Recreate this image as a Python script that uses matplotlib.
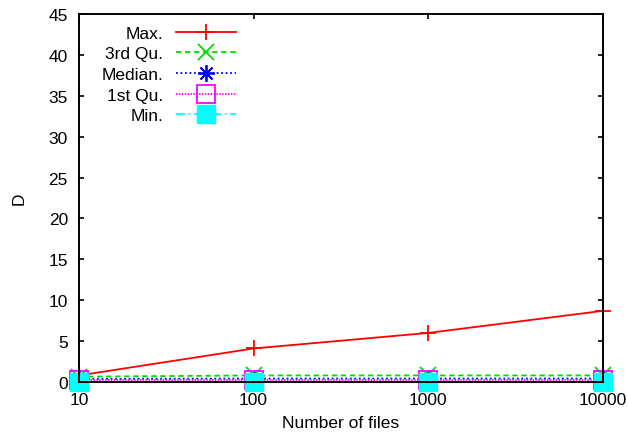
import matplotlib
matplotlib.use('Agg')
import matplotlib.pyplot as plt
from matplotlib.ticker import NullLocator, FixedLocator, FixedFormatter

plt.rcParams['font.family'] = ['Liberation Sans', 'DejaVu Sans']

# data
n_files = [10, 100, 1000, 10000]
d_max = [0.8, 4.1, 6.0, 8.7]
d_q3 = [0.65, 0.8, 0.8, 0.8]
d_median = [0.38, 0.42, 0.42, 0.42]
d_q1 = [0.25, 0.25, 0.25, 0.25]
d_min = [0.05, 0.05, 0.05, 0.05]
labels = ['Max.', '3rd Qu.', 'Median.', '1st Qu.', 'Min.']

FS = 12.5

fig = plt.figure(figsize=(6.28, 4.39), dpi=100)
ax = fig.add_axes([0.1258, 0.1276, 0.834, 0.838])

ax.plot(n_files, d_max, color='red', ls='-', lw=1.3, marker='+', ms=12, mew=1.3,
        clip_on=False, label=labels[0])
ax.plot(n_files, d_q3, color='#00dd00', ls=(0, (3, 2)), lw=1.3, marker='x', ms=12, mew=1.3,
        clip_on=False, label=labels[1])
ax.plot(n_files, d_median, color='blue', ls=(0, (1, 1.5)), lw=1.3, marker=(8, 2, 0), ms=12, mew=1.3,
        clip_on=False, label=labels[2])
ax.plot(n_files, d_q1, color='magenta', ls=(0, (0.8, 0.8)), lw=1.3, marker='s', ms=12.5, mew=1.3,
        mfc='none', clip_on=False, label=labels[3])
ax.plot(n_files, d_min, color='cyan', ls=(0, (5, 2, 1, 2)), lw=1.3, marker='s', ms=12.5,
        clip_on=False, label=labels[4])

ax.set_xscale('log')
ax.set_xlim(10, 10000)
ax.set_ylim(0, 45)
ax.xaxis.set_major_locator(FixedLocator(n_files))
ax.xaxis.set_major_formatter(FixedFormatter(['10', '100', '1000', '10000']))
ax.xaxis.set_minor_locator(NullLocator())
ax.set_yticks(range(0, 46, 5))

ax.tick_params(direction='in', length=3.5, width=1.2, top=True, right=True, labelsize=FS)
ax.tick_params(axis='y', pad=8)
ax.tick_params(axis='x', pad=7)
for s in ax.spines.values():
    s.set_linewidth(1.4)

ax.set_xlabel('Number of files', fontsize=FS, labelpad=6)
ax.set_ylabel('D', fontsize=FS, labelpad=16)

leg = ax.legend(loc='upper left', markerfirst=False, frameon=False, fontsize=FS,
                handlelength=3.5, handletextpad=0.7, labelspacing=0.32,
                borderaxespad=0.0, borderpad=0.0, bbox_to_anchor=(0.043, 0.969))

fig.savefig('out.png', dpi=100)
